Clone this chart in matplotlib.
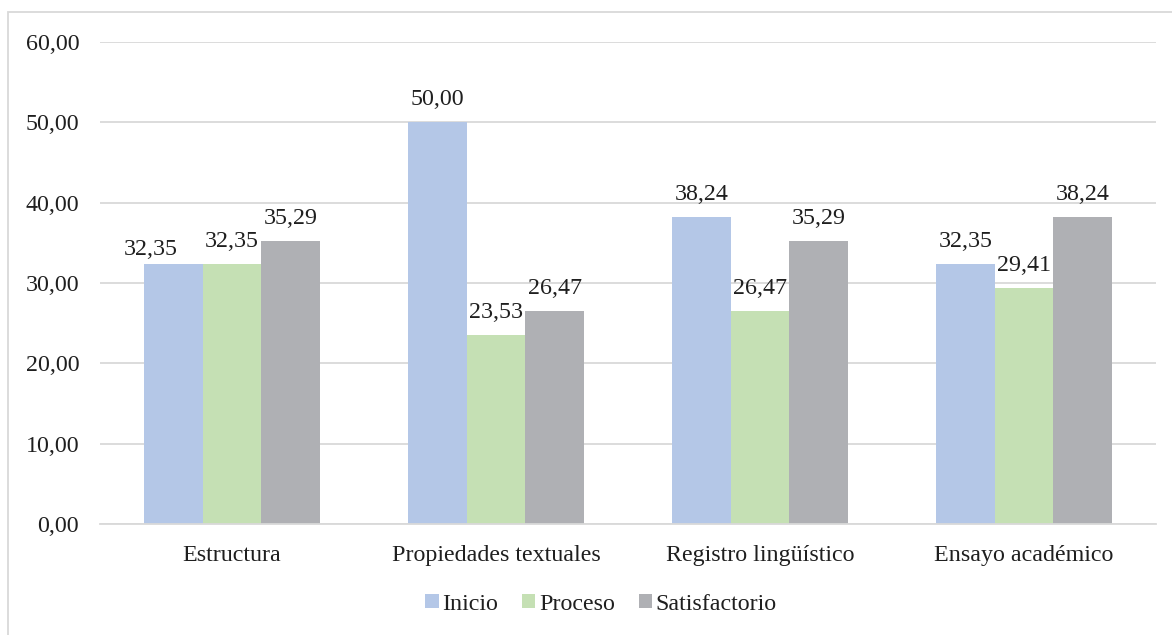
import matplotlib
matplotlib.use("Agg")
import matplotlib.pyplot as plt
from matplotlib.patches import Rectangle
import numpy as np

categories = ["Estructura", "Propiedades textuales", "Registro lingüístico", "Ensayo académico"]
series_names = ["Inicio", "Proceso", "Satisfactorio"]
inicio = [32.35, 50.00, 38.24, 32.35]
proceso = [32.35, 23.53, 26.47, 29.41]
satisfactorio = [35.29, 26.47, 35.29, 38.24]
yticks = [0, 10, 20, 30, 40, 50, 60]
colors = ["#B4C7E7", "#C5E0B4", "#AFB0B4"]

plt.rcParams['font.family'] = ['Liberation Serif', 'DejaVu Serif']
FS = 17.3
TXT = "#1f1f1f"

W, H = 1172, 635
fig = plt.figure(figsize=(W / 100, H / 100), dpi=100)
ax = fig.add_axes([100 / W, 1 - 524 / H, (1156 - 100) / W, (524 - 42) / H])

x = np.arange(len(categories))
bw = 0.222
series = [inicio, proceso, satisfactorio]
# label offsets in points (Excel moved one label to avoid overlap)
label_shift = {(0, 0): (-16, 6.5)}
for i, (name, vals, c) in enumerate(zip(series_names, series, colors)):
    pos = x + (i - 1) * bw
    bars = ax.bar(pos, vals, width=bw, color=c, label=name, zorder=3)
    for j, (b, v) in enumerate(zip(bars, vals)):
        off = label_shift.get((i, j), (0, 12.2))
        ax.annotate(f"{v:.2f}".replace(".", ","),
                    (b.get_x() + b.get_width() / 2, v),
                    xytext=off, textcoords="offset points",
                    ha="center", va="baseline", fontsize=FS, color=TXT)

ax.set_xlim(-0.5, len(categories) - 0.5)
ax.set_ylim(0, 60)
ax.set_yticks(yticks)
ax.set_yticklabels([f"{t:.2f}".replace(".", ",") for t in yticks], fontsize=FS, color=TXT)
ax.set_xticks(x)
ax.set_xticklabels(categories, fontsize=FS, color=TXT)
ax.tick_params(axis="both", length=0)
ax.tick_params(axis="y", pad=15)
ax.tick_params(axis="x", pad=15)
ax.yaxis.grid(True, color="#D9D9D9", linewidth=1.3, zorder=0)
for s in ["top", "right", "left"]:
    ax.spines[s].set_visible(False)
ax.spines["bottom"].set_color("#D9D9D9")
ax.spines["bottom"].set_linewidth(1.3)
ax.spines["bottom"].set_zorder(4)

leg = fig.legend(loc="center", bbox_to_anchor=(601 / W, 1 - 604 / H), ncol=3,
                 frameon=False, fontsize=FS, handlelength=0.55, handleheight=0.55,
                 handletextpad=0.15, columnspacing=1.0)
for t in leg.get_texts():
    t.set_color(TXT)

fig.patches.append(Rectangle((8 / W, -0.1), 1.2, 1 - 12 / H + 0.1,
                             transform=fig.transFigure, fill=False,
                             edgecolor="#D9D9D9", linewidth=1.3))

fig.savefig("out.png", dpi=100)
